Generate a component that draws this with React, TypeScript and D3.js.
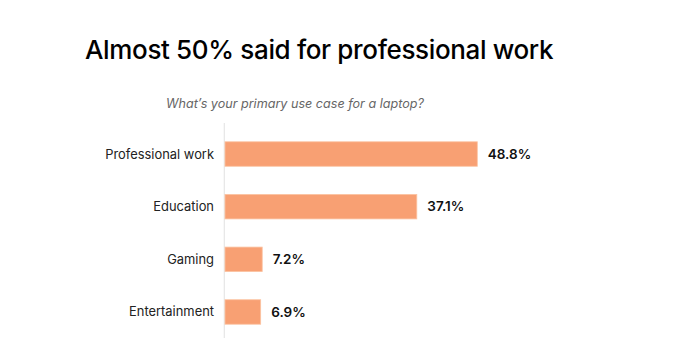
import React, { useEffect, useRef } from "react"
import * as d3 from "d3"

const categories = ["Professional work", "Education", "Gaming", "Entertainment"]
const values = [48.8, 37.1, 7.2, 6.9]
const valueLabels = ["48.8%", "37.1%", "7.2%", "6.9%"]

const title = "Almost 50% said for professional work"
const subtitle = "What\u2019s your primary use case for a laptop?"

const W = 680
const H = 360

export default function App() {
  const ref = useRef<SVGSVGElement>(null)

  useEffect(() => {
    const svg = d3.select(ref.current)
    svg.selectAll("*").remove()

    const font = "Inter, 'Noto Sans', sans-serif"

    svg.append("rect").attr("width", W).attr("height", H).attr("fill", "#fff")

    svg.append("text")
      .attr("x", 85)
      .attr("y", 59)
      .attr("font-family", font)
      .attr("font-size", 26)
      .attr("font-weight", 500)
      .attr("fill", "#000")
      .attr("letter-spacing", -0.35)
      .text(title)

    svg.append("text")
      .attr("x", 295)
      .attr("y", 108)
      .attr("text-anchor", "middle")
      .attr("font-family", font)
      .attr("font-size", 12.6)
      .attr("font-style", "italic")
      .attr("fill", "#666")
      .text(subtitle)

    let x = d3.scaleLinear()
      .domain([0, 50])
      .range([225, 483.5])

    let y = d3.scaleBand()
      .domain(categories)
      .range([127.7, 338.3])
      .paddingInner(0.535)
      .paddingOuter(0.2675)

    // faint axis line
    svg.append("line")
      .attr("x1", 224.3).attr("x2", 224.3)
      .attr("y1", 123).attr("y2", 338)
      .attr("stroke", "#e6e6e6")
      .attr("stroke-width", 1.2)

    const rows = svg.selectAll("g.row")
      .data(categories)
      .enter()
      .append("g")
      .attr("class", "row")

    rows.append("rect")
      .attr("x", x(0))
      .attr("y", d => y(d)!)
      .attr("width", (d, i) => x(values[i]) - x(0))
      .attr("height", y.bandwidth())
      .attr("fill", "#F8A073")
      .attr("stroke", "#FBC3A2")
      .attr("stroke-width", 0.8)

    rows.append("text")
      .attr("x", 214)
      .attr("y", d => y(d)! + y.bandwidth() / 2)
      .attr("dy", "0.35em")
      .attr("text-anchor", "end")
      .attr("font-family", font)
      .attr("font-size", 12.9)
      .attr("fill", "#222")
      .text(d => d)

    rows.append("text")
      .attr("x", (d, i) => x(values[i]) + 10.5)
      .attr("y", d => y(d)! + y.bandwidth() / 2)
      .attr("dy", "0.35em")
      .attr("font-family", font)
      .attr("font-size", 13.5)
      .attr("font-weight", 600)
      .attr("fill", "#111")
      .text((d, i) => valueLabels[i])
  }, [])

  return (
    <div style={{ margin: -8 }}>
      <svg ref={ref} width={W} height={H} viewBox={`0 0 ${W} ${H}`} style={{ display: "block" }} />
    </div>
  )
}
